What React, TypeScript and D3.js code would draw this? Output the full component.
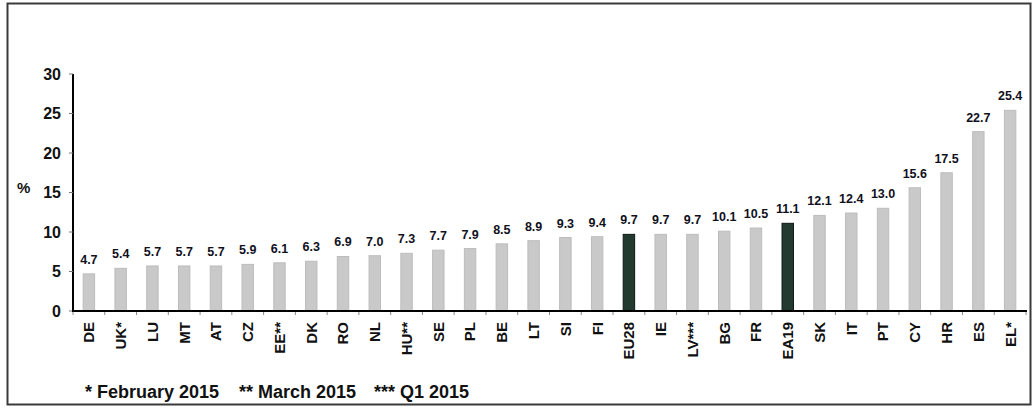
import React from "react";
import * as d3 from "d3";

const categories = ["DE","UK*","LU","MT","AT","CZ","EE**","DK","RO","NL","HU**","SE","PL","BE","LT","SI","FI","EU28","IE","LV***","BG","FR","EA19","SK","IT","PT","CY","HR","ES","EL*"];
const values = [4.7,5.4,5.7,5.7,5.7,5.9,6.1,6.3,6.9,7.0,7.3,7.7,7.9,8.5,8.9,9.3,9.4,9.7,9.7,9.7,10.1,10.5,11.1,12.1,12.4,13.0,15.6,17.5,22.7,25.4];
const highlighted = ["EU28","EA19"];
const yTicks = [0,5,10,15,20,25,30];
const legendItems = ["* February 2015","** March 2015","*** Q1 2015"];

const W = 1034, H = 416;
const FONT = "Arial, 'Liberation Sans', Helvetica, sans-serif";

export default function App() {
  const x = d3.scaleBand<string>().domain(categories).range([73, 1026]).paddingInner(0.64).paddingOuter(0.32);
  const y = d3.scaleLinear().domain([0, 30]).range([311, 74]);
  const step = x.step();
  const legendX = [85, 239, 374];

  return (
    <svg width={W} height={H} style={{ position: "absolute", left: 0, top: 0, background: "#fff" }} fontFamily={FONT}>
      <rect x={0} y={0} width={W} height={H} fill="#fff" />
      {/* frame */}
      <rect x={7.5} y={3.5} width={1023} height={401} fill="none" stroke="#3a3a3a" strokeWidth={2} />

      {/* bars */}
      {categories.map((c, i) => {
        const hl = highlighted.includes(c);
        return (
          <rect key={c} x={x(c)} y={y(values[i])} width={x.bandwidth()} height={y(0) - y(values[i])}
            fill={hl ? "#233a30" : "#c9c9c9"} stroke={hl ? "#0e1712" : "#bcbcbc"} strokeWidth={1} />
        );
      })}

      {/* value labels */}
      {categories.map((c, i) => (
        <text key={"v" + c} x={(x(c) as number) + x.bandwidth() / 2} y={y(values[i]) - 10}
          textAnchor="middle" fontSize={12.5} fontWeight="bold" fill="#10101c">
          {values[i].toFixed(1)}
        </text>
      ))}

      {/* y axis */}
      <line x1={73} x2={73} y1={y(30)} y2={y(0) + 1} stroke="#000" strokeWidth={2} />
      {yTicks.map(t => (
        <g key={"t" + t}>
          <line x1={69} x2={73} y1={y(t)} y2={y(t)} stroke="#777" strokeWidth={1} />
          <text x={61} y={y(t)} dy="0.36em" textAnchor="end" fontSize={16} fontWeight="bold" fill="#111">{t}</text>
        </g>
      ))}
      <text x={17} y={193} fontSize={15} fontWeight="bold" fill="#111">%</text>

      {/* x axis */}
      <line x1={72} x2={1027} y1={y(0)} y2={y(0)} stroke="#000" strokeWidth={2} />
      {d3.range(categories.length + 1).map(k => {
        const bx = 73 + k * step;
        return <line key={"xt" + k} x1={bx} x2={bx} y1={y(0) + 1} y2={y(0) + 4} stroke="#888" strokeWidth={1} />;
      })}
      {categories.map(c => {
        const cx = (x(c) as number) + x.bandwidth() / 2;
        return (
          <text key={"l" + c} transform={`translate(${cx},322) rotate(-90)`} dy="0.36em"
            textAnchor="end" fontSize={15} fontWeight="bold" fill="#111">{c}</text>
        );
      })}

      {/* footnote legend */}
      {legendItems.map((s, i) => (
        <text key={"f" + i} x={legendX[i]} y={398} fontSize={18} fontWeight="bold" fill="#111">{s}</text>
      ))}
    </svg>
  );
}
